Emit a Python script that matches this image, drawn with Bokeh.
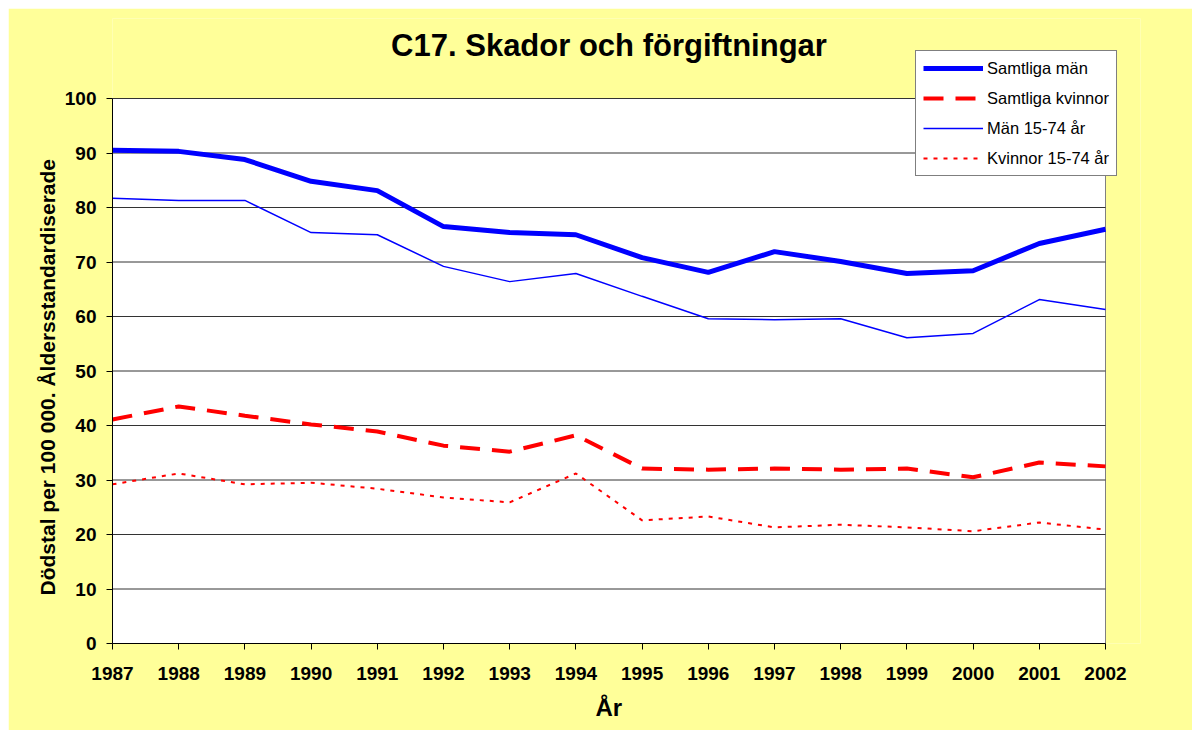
from bokeh.plotting import figure
from bokeh.models import Legend, LegendItem, FixedTicker, Range1d, Label, Title
from bokeh.embed import file_html
from bokeh.resources import INLINE

years = list(range(1987, 2003))
samtliga_man = [90.5, 90.3, 88.8, 84.8, 83.1, 76.5, 75.4, 75.0, 70.8, 68.1, 71.9, 70.1, 67.9, 68.4, 73.4, 76.0]
samtliga_kvinnor = [41.1, 43.5, 41.8, 40.2, 38.9, 36.3, 35.2, 38.2, 32.1, 31.9, 32.1, 31.9, 32.1, 30.5, 33.2, 32.5]
man_15_74 = [81.7, 81.3, 81.3, 75.4, 75.0, 69.2, 66.4, 67.9, 63.7, 59.6, 59.4, 59.6, 56.1, 56.9, 63.1, 61.3]
kvinnor_15_74 = [29.2, 31.2, 29.2, 29.5, 28.4, 26.8, 25.9, 31.2, 22.6, 23.3, 21.3, 21.8, 21.3, 20.6, 22.2, 20.9]
y_ticks = list(range(0, 101, 10))
title_text = "C17. Skador och förgiftningar"
x_label = "År"
y_label = "Dödstal per 100 000. Åldersstandardiserade"

FONT = "Liberation Sans"
YELLOW = "#FFFF99"

# frame geometry (pixels): plotting area spans 545 px for 0..100 and 993 px for 15 years;
# the frame is extended up and right (as yellow) so the legend and title can sit there
W, H = 1184, 722
ML, MR, MT, MB = 104, 52, 10, 87
px_per_y = 5.45
px_per_x = 993 / 15.0
y_top = (H - MT - MB) / px_per_y
x_end = years[0] + (W - ML - MR) / px_per_x

p = figure(width=W, height=H, output_backend="svg", toolbar_location=None,
           x_range=Range1d(years[0], x_end), y_range=Range1d(y_ticks[0], y_top),
           min_border_left=ML, min_border_right=MR, min_border_top=MT, min_border_bottom=MB)
p.margin = (8, 8, 8, 8)
p.border_fill_color = YELLOW
p.background_fill_color = YELLOW
p.outline_line_color = None

# white plotting area with gray border
p.quad(left=[years[0]], right=[years[-1]], bottom=[y_ticks[0]], top=[y_ticks[-1]],
       fill_color="white", line_color="#808080", line_width=1)
# horizontal gridlines
p.segment(x0=[years[0]] * len(y_ticks), x1=[years[-1]] * len(y_ticks), y0=y_ticks, y1=y_ticks,
          line_color="#333333", line_width=1)

r1 = p.line(years, samtliga_man, line_color="#0000FF", line_width=5)
r2 = p.line(years, samtliga_kvinnor, line_color="#FF0000", line_width=4, line_dash="20 12")
r3 = p.line(years, man_15_74, line_color="#0000FF", line_width=1.5)
r4 = p.line(years, kvinnor_15_74, line_color="#FF0000", line_width=2, line_dash="4 6")

for ax in (p.xaxis[0], p.yaxis[0]):
    ax.major_label_text_font = FONT
    ax.major_label_text_font_size = "19px"
    ax.major_label_text_font_style = "bold"
    ax.major_label_text_color = "black"
    ax.axis_line_color = "black"
    ax.major_tick_line_color = "black"
    ax.major_tick_out = 6
    ax.major_tick_in = 0
    ax.minor_tick_line_color = None

p.xaxis.ticker = FixedTicker(ticks=years)
p.yaxis.ticker = FixedTicker(ticks=y_ticks)
p.xaxis.bounds = (years[0], years[-1])
p.yaxis.bounds = (y_ticks[0], y_ticks[-1])
p.xaxis.major_label_standoff = 17
p.yaxis.major_label_standoff = 10

p.xgrid.grid_line_color = None
p.ygrid.grid_line_color = None

# axis titles, placed along the white plotting area
ylab = Title(text=y_label, align="left", offset=48, standoff=6,
             text_font=FONT, text_font_size="21px", text_font_style="bold", text_color="black")
p.add_layout(ylab, "left")
xlab = Title(text=x_label, align="left", offset=483, standoff=18,
             text_font=FONT, text_font_size="24px", text_font_style="bold", text_color="black")
p.add_layout(xlab, "below")

title = Label(x=(years[0] + years[-1]) / 2, y=109.7, text=title_text,
              text_align="center", text_baseline="alphabetic",
              text_font=FONT, text_font_size="31px", text_font_style="bold", text_color="black")
p.add_layout(title)

legend = Legend(items=[
    LegendItem(label="Samtliga män", renderers=[r1]),
    LegendItem(label="Samtliga kvinnor", renderers=[r2]),
    LegendItem(label="Män 15-74 år", renderers=[r3]),
    LegendItem(label="Kvinnor 15-74 år", renderers=[r4]),
], location=(803, 467))
legend.label_text_font = FONT
legend.label_text_font_size = "16.5px"
legend.label_text_color = "black"
legend.glyph_width = 60
legend.glyph_height = 20
legend.label_height = 20
legend.label_standoff = 4
legend.spacing = 10
legend.padding = 7
legend.margin = 0
legend.border_line_color = "black"
legend.border_line_width = 1
legend.background_fill_color = "white"
legend.background_fill_alpha = 1
p.add_layout(legend)

open("out.html", "w").write(file_html(p, INLINE))
